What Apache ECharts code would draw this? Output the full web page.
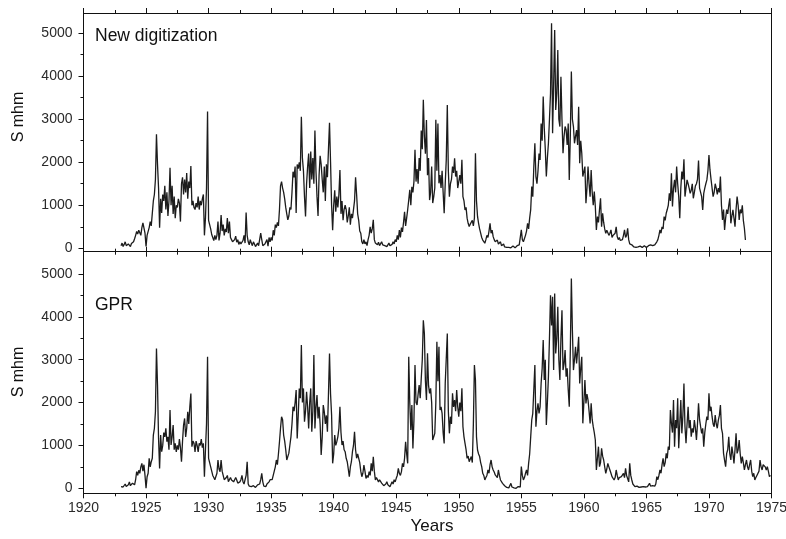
<!DOCTYPE html>
<html>
<head>
<meta charset="utf-8">
<script src="https://cdn.jsdelivr.net/npm/echarts@6/dist/echarts.min.js"></script>
<style>
html,body{margin:0;padding:0;background:#fff;}
#chart{width:786px;height:539px;}
</style>
</head>
<body>
<div id="chart"></div>
<script>
// Monthly values, starting January 1923
const startYear = 1923;

// Top panel: "New digitization" (Jan 1923 - Dec 1972)
const newDigitization = [
  60,120,40,90,150,60,30,100,70,40,110,80,
  150,220,300,390,330,420,380,300,480,590,560,350,
  40,300,260,480,620,520,560,1100,1250,1600,2650,1950,
  1400,480,1150,820,1250,1100,1450,900,1300,750,1100,1870,
  1000,1450,800,1200,700,1000,950,1150,1050,620,1500,1650,
  1250,1600,1300,1750,1150,1550,1400,1910,1000,1100,950,900,
  1050,950,1200,900,1100,1000,1150,1250,300,700,1400,3180,
  650,550,450,320,250,180,300,200,300,620,180,350,
  770,400,550,300,450,380,700,350,620,250,200,150,
  120,200,280,140,200,90,150,100,60,180,300,120,
  830,300,150,80,200,120,60,150,100,40,80,120,
  60,100,350,200,60,40,100,80,200,50,250,150,
  250,180,420,300,550,480,600,520,900,1450,1550,1400,
  1300,1150,950,800,660,750,950,900,1300,1780,1650,1900,
  820,1950,1850,2000,1800,3060,2100,1800,1200,740,1500,1900,
  2200,1400,2250,1600,2100,1500,2735,1800,1200,750,1700,2150,
  1950,1600,1300,1900,1100,1950,1650,2300,2920,2000,1000,420,
  1000,1350,850,1200,950,1250,1820,800,1100,650,900,1000,
  900,600,750,950,550,800,700,900,1100,1650,1250,800,
  650,400,350,150,100,200,100,150,60,200,300,500,
  350,450,660,200,120,160,80,140,60,100,150,80,
  120,60,100,40,80,120,60,30,90,150,100,200,
  150,300,200,420,250,480,380,600,850,520,700,900,
  1120,1360,1000,1430,1300,1550,2290,1550,1840,1500,2100,1800,
  2740,2300,3450,2600,2200,2980,1700,2100,1120,1300,1900,1050,
  1200,1400,2985,1800,2900,1510,1700,1400,1800,1300,815,1500,
  2055,3333,1800,1200,1500,1600,1900,1750,2090,1667,1800,1400,
  1357,1700,1500,2055,1200,1100,890,950,700,580,505,560,
  580,650,520,700,2210,1100,740,580,450,350,250,190,
  150,117,200,300,250,400,580,350,420,270,200,150,
  117,190,100,80,150,60,40,100,30,60,20,40,
  20,40,10,30,50,20,10,30,60,20,80,50,
  426,200,150,190,300,400,580,450,700,900,1435,1200,
  1900,2440,1667,1500,1800,2200,2055,2900,2500,3527,2800,2300,
  1667,2100,2440,3000,3600,5232,2675,3800,5077,3217,3600,4612,
  3000,2830,3990,3000,2210,2600,2830,2750,2400,2900,1590,2600,
  4108,3000,2830,2440,2600,2750,2400,3290,1975,2500,2210,1667,
  1700,1900,1047,1400,1900,1500,1200,1820,1300,1000,1317,970,
  426,736,600,900,1162,500,814,600,450,348,420,426,
  300,350,426,250,300,271,350,500,271,200,250,180,
  155,200,300,426,250,300,465,200,100,60,80,40,
  30,60,20,40,30,20,50,30,20,40,60,30,
  20,40,60,30,80,40,60,100,80,116,150,200,
  300,426,350,500,450,736,650,814,900,1000,1278,1100,
  1744,969,1400,1589,1300,1898,1500,1200,697,1400,1782,1600,
  2069,1201,1400,1589,1500,1400,1278,1350,1500,1162,1300,1450,
  1500,1600,2038,1400,1356,1200,891,1278,1400,1500,1589,1800,
  2170,1821,1600,1400,1201,1300,1500,1400,1250,1400,1300,1666,
  1000,658,900,426,700,900,800,1000,1162,580,750,891,
  700,500,900,1201,1000,658,900,814,1000,650,465,193
];

// Bottom panel: "GPR" (Jan 1923 - Dec 1974)
const gpr = [
  40,80,30,60,100,40,20,80,150,60,100,120,
  100,80,200,387,300,420,350,500,580,400,550,300,
  0,270,350,700,500,620,700,1242,1400,1786,3262,2408,
  1164,465,1242,853,1000,1300,1200,1398,1087,1200,900,1825,
  1009,1200,1475,900,1050,850,1000,900,1150,950,620,1100,
  1475,1630,1200,1400,1786,1500,1903,2213,970,1100,1050,850,
  1100,1000,850,1050,1000,1150,950,1050,270,900,1500,3068,
  700,600,500,400,300,250,200,193,350,660,450,387,
  660,400,300,200,155,250,300,155,200,250,193,200,
  150,200,250,193,120,80,150,200,300,155,100,80,
  300,620,100,50,30,40,20,60,30,20,40,80,
  60,100,200,350,150,50,80,40,100,60,150,200,
  230,200,300,400,500,660,550,800,1087,1400,1670,1600,
  1242,1100,900,660,700,820,1009,1200,1500,1903,1800,2000,
  2291,1164,1700,2330,2100,3340,2000,2330,1553,1800,2250,1900,
  1398,2000,2330,1320,1800,3107,1398,1900,2175,1630,1900,1500,
  776,1200,1942,1786,1500,1700,1320,2200,3145,2200,1709,582,
  800,1242,1000,1087,1200,1398,1903,1300,1009,1100,900,853,
  700,620,450,270,500,620,853,1000,1320,900,700,800,
  776,600,400,270,350,543,400,230,300,250,387,300,
  582,400,737,400,193,250,270,150,200,193,120,77,
  60,38,100,155,80,100,38,60,155,100,200,150,
  232,300,465,350,300,387,582,500,700,1087,800,582,
  3068,2000,1360,1942,930,1600,2874,2000,1942,2200,2408,2100,
  2563,3000,3920,3610,2500,2060,3150,2400,2214,2330,2000,1126,
  1130,1282,2000,3418,2500,3300,1826,1900,1750,1300,1048,2447,
  2447,3613,1800,1282,1670,1500,2214,1900,2060,1800,2292,1900,
  1670,2000,1800,2331,1437,1200,1048,900,699,750,620,650,
  740,600,1500,2875,2525,1200,893,800,740,600,505,350,
  300,194,250,300,427,350,550,660,500,427,380,311,
  350,250,427,300,194,150,116,80,60,40,20,30,
  10,40,116,30,20,10,30,0,20,40,60,30,
  505,300,194,250,350,427,300,582,800,1200,1593,1748,
  1748,2875,1437,1800,1981,1748,1900,2447,2800,3457,2525,3000,
  1476,2000,2603,3500,4506,3800,4467,2758,4545,3146,3500,4234,
  3000,2525,3500,4156,2758,2900,3224,2603,2800,2300,1903,3200,
  4895,3690,2758,3000,3302,2913,3200,3535,2447,2800,3069,1515,
  2000,2525,1981,2200,2059,1800,1515,1981,1600,1437,1300,1126,
  427,700,971,505,600,932,750,660,500,350,450,582,
  500,427,350,272,300,194,250,427,300,194,250,272,
  272,300,350,250,466,300,272,150,582,300,194,100,
  116,40,20,50,30,20,60,30,20,40,80,30,
  20,40,60,116,50,30,60,80,50,100,272,200,
  300,427,350,550,699,505,600,815,700,971,900,1826,
  1515,1300,2059,971,1592,1400,2098,932,1500,2059,1282,1700,
  2447,1437,1049,1500,1903,1400,1592,1204,1400,1300,1592,1400,
  1126,1500,1981,1600,1437,1282,1400,971,1300,1500,1670,1592,
  2214,1800,1903,1670,1500,1437,1709,1500,1400,1592,1700,1942,
  1400,1282,815,650,505,815,900,1204,800,660,971,800,
  582,900,1282,815,900,1126,800,582,738,600,427,550,
  660,500,427,550,660,400,272,350,194,250,300,272,
  400,660,500,427,550,582,500,427,505,400,272,300
];

const yTickValues = [0, 1000, 2000, 3000, 4000, 5000];
const yMinorTickValues = [500, 1500, 2500, 3500, 4500];
const panelLabels = ['New digitization', 'GPR'];
const yAxisTitle = 'S mhm';
const xAxisTitle = 'Years';

const toPairs = arr => arr.map((v, i) => [startYear + i / 12, v]);

const FONT = '"Liberation Sans", Arial, Helvetica, sans-serif';
const INK = '#111';
const LABEL = '#2a2a2a';

const X_MIN = 1920, X_MAX = 1975;
const ranges = [[-80, 5470], [-117, 5520]];

const grids = [
  { left: 83.5, right: 14.5, top: 13, height: 238.7, outerBoundsMode: 'none', containLabel: false },
  { left: 83.5, right: 14.5, top: 251.7, height: 241.6, outerBoundsMode: 'none', containLabel: false }
];

const plain = v => String(Math.round(v));

function xAx(gridIndex, position, showLabels) {
  return {
    type: 'value', gridIndex, position, min: X_MIN, max: X_MAX, interval: 5,
    axisLine: { show: true, onZero: false, lineStyle: { color: INK, width: 1 } },
    axisTick: { show: true, inside: false, length: 5, lineStyle: { color: INK, width: 1 } },
    minorTick: { show: true, splitNumber: 2, length: 3, lineStyle: { color: INK, width: 1 } },
    splitLine: { show: false }, minorSplitLine: { show: false },
    axisLabel: { show: showLabels, formatter: plain, fontFamily: FONT, fontSize: 14, color: LABEL, margin: 8,
                 showMinLabel: true, showMaxLabel: true, hideOverlap: false }
  };
}
function yMajor(gridIndex) {
  const [mn, mx] = ranges[gridIndex];
  return {
    type: 'value', gridIndex, position: 'left', min: mn, max: mx,
    axisLine: { show: true, onZero: false, lineStyle: { color: INK, width: 1 } },
    axisTick: { show: true, inside: false, length: 5, customValues: yTickValues, lineStyle: { color: INK, width: 1 } },
    axisLabel: { show: true, customValues: yTickValues, formatter: plain, fontFamily: FONT, fontSize: 14, color: LABEL, margin: 11 },
    splitLine: { show: false }
  };
}
function yMinor(gridIndex) {
  const [mn, mx] = ranges[gridIndex];
  return {
    type: 'value', gridIndex, position: 'left', min: mn, max: mx,
    axisLine: { show: false },
    axisTick: { show: true, inside: false, length: 3, customValues: yMinorTickValues, lineStyle: { color: INK, width: 1 } },
    axisLabel: { show: false },
    splitLine: { show: false }
  };
}
function yRight(gridIndex) {
  const [mn, mx] = ranges[gridIndex];
  return {
    type: 'value', gridIndex, position: 'right', min: mn, max: mx,
    axisLine: { show: true, onZero: false, lineStyle: { color: INK, width: 1 } },
    axisTick: { show: false }, axisLabel: { show: false }, splitLine: { show: false }
  };
}

const lineStyle = { color: '#1c1c1c', width: 1.3 };

const option = {
  animation: false,
  backgroundColor: '#fff',
  grid: grids,
  xAxis: [xAx(0, 'bottom', false), xAx(0, 'top', false), xAx(1, 'bottom', true), xAx(1, 'top', false)],
  yAxis: [yMajor(0), yMinor(0), yRight(0), yMajor(1), yMinor(1), yRight(1)],
  series: [
    { type: 'line', xAxisIndex: 0, yAxisIndex: 0, data: toPairs(newDigitization), showSymbol: false, symbol: 'none',
      lineStyle, sampling: null, silent: true },
    { type: 'line', xAxisIndex: 2, yAxisIndex: 3, data: toPairs(gpr), showSymbol: false, symbol: 'none',
      lineStyle, sampling: null, silent: true }
  ],
  graphic: [
    { type: 'text', x: 95, y: 36, style: { text: panelLabels[0], font: '17.5px ' + FONT, fill: '#111', align: 'left', verticalAlign: 'middle' } },
    { type: 'text', x: 95, y: 305, style: { text: panelLabels[1], font: '17.5px ' + FONT, fill: '#111', align: 'left', verticalAlign: 'middle' } },
    { type: 'text', x: 19, y: 117, rotation: Math.PI / 2, style: { text: yAxisTitle, font: '16px ' + FONT, fill: '#111', align: 'center', verticalAlign: 'middle' } },
    { type: 'text', x: 19, y: 372, rotation: Math.PI / 2, style: { text: yAxisTitle, font: '16px ' + FONT, fill: '#111', align: 'center', verticalAlign: 'middle' } },
    { type: 'text', x: 432, y: 526, style: { text: xAxisTitle, font: '17px ' + FONT, fill: '#111', align: 'center', verticalAlign: 'middle' } }
  ]
};

const chart = echarts.init(document.getElementById('chart'), null, { renderer: 'canvas' });
chart.setOption(option);
</script>
</body>
</html>
